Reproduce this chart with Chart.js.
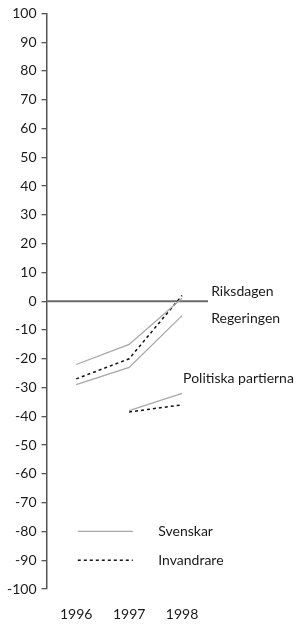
<!DOCTYPE html>
<html>
<head>
<meta charset="utf-8">
<script src="https://cdn.jsdelivr.net/npm/chart.js@4"></script>
<style>
  html, body { margin: 0; padding: 0; background: #fff; overflow: hidden; }
  canvas { display: block; }
</style>
</head>
<body>
<canvas id="chart1" width="301" height="625"></canvas>
<script>
const years = [1996, 1997, 1998]
const yTicks = [-100, 100, 10]

// Riksdagen / Regeringen
const riksdagenSvenskar = [-22, -15, 1]
const riksdagenInvandrare = [-27, -20, 2]
const regeringenSvenskar = [-29, -23, -5]

// Politiska partierna (no 1996 value)
const partierSvenskar = [null, -38, -32]
const partierInvandrare = [null, -38.5, -36]

const colors = {
  svensk: '#a8a8a8',
  invandr: '#111',
  axis: '#555',
  zero: '#6a6a6a',
  text: '#1a1a1a'
}

const font = 'Lato, "Open Sans", sans-serif'

const toPoints = vals => years.map((x, i) => ({ x, y: vals[i] }))

const svenskLine = vals => ({
  data: toPoints(vals),
  borderColor: colors.svensk,
  borderWidth: 1.3,
  pointRadius: 0,
  tension: 0,
  spanGaps: false
})

const invandrLine = vals => ({
  data: toPoints(vals),
  borderColor: colors.invandr,
  borderWidth: 1.5,
  borderDash: [3, 3],
  pointRadius: 0,
  tension: 0,
  spanGaps: false
})

// text beside the lines and the hand-drawn legend
const notes = [
  { text: 'Riksdagen', x: 1998.55, y: 3.5 },
  { text: 'Regeringen', x: 1998.55, y: -6 },
  { text: 'Politiska partierna', x: 1998.02, y: -27 }
]

const legendItems = [
  { text: 'Svenskar', y: -80, color: colors.svensk, dash: [], width: 1.3 },
  { text: 'Invandrare', y: -90, color: colors.invandr, dash: [3, 3], width: 1.5 }
]

const extras = {
  id: 'extras',
  beforeDatasetsDraw(chart) {
    const { ctx, chartArea, scales: { y } } = chart
    ctx.save()
    ctx.strokeStyle = colors.zero
    ctx.lineWidth = 2
    ctx.beginPath()
    ctx.moveTo(chartArea.left, y.getPixelForValue(0))
    ctx.lineTo(chartArea.right, y.getPixelForValue(0))
    ctx.stroke()
    ctx.restore()
  },
  afterDraw(chart) {
    const { ctx, scales: { x, y } } = chart
    ctx.save()
    ctx.fillStyle = colors.text
    ctx.font = '14px ' + font
    ctx.textBaseline = 'middle'
    ctx.textAlign = 'left'
    notes.forEach(n => ctx.fillText(n.text, x.getPixelForValue(n.x), y.getPixelForValue(n.y)))

    legendItems.forEach(l => {
      const py = y.getPixelForValue(l.y)
      ctx.strokeStyle = l.color
      ctx.lineWidth = l.width
      ctx.setLineDash(l.dash)
      ctx.beginPath()
      ctx.moveTo(x.getPixelForValue(1996.03), py)
      ctx.lineTo(x.getPixelForValue(1997.07), py)
      ctx.stroke()
      ctx.fillText(l.text, x.getPixelForValue(1997.55), py)
    })
    ctx.restore()
  }
}

const data = {
  datasets: [
    svenskLine(riksdagenSvenskar),
    invandrLine(riksdagenInvandrare),
    svenskLine(regeringenSvenskar),
    svenskLine(partierSvenskar),
    invandrLine(partierInvandrare)
  ]
}

const options = {
  responsive: false,
  animation: false,
  layout: {
    padding: { top: 13, right: 93, bottom: 2, left: 2 }
  },
  plugins: {
    legend: { display: false },
    tooltip: { enabled: false }
  },
  scales: {
    x: {
      type: 'linear',
      min: 1995.44,
      max: 1998.49,
      grid: { display: false, drawTicks: false },
      border: { display: false },
      afterFit: scale => { scale.height = 34 },
      ticks: {
        stepSize: 1,
        includeBounds: false,
        maxRotation: 0,
        padding: 17,
        color: colors.text,
        font: { family: font, size: 14 },
        callback: v => String(v)
      }
    },
    y: {
      min: yTicks[0],
      max: yTicks[1],
      grid: {
        drawOnChartArea: false,
        drawTicks: true,
        tickLength: 5,
        color: colors.axis,
        lineWidth: 1.3
      },
      border: { display: true, color: colors.axis, width: 1.5 },
      ticks: {
        stepSize: yTicks[2],
        padding: 5,
        color: colors.text,
        font: { family: font, size: 14 }
      }
    }
  }
}

new Chart('chart1', {
  type: 'line',
  data,
  options,
  plugins: [extras]
})
</script>
</body>
</html>
